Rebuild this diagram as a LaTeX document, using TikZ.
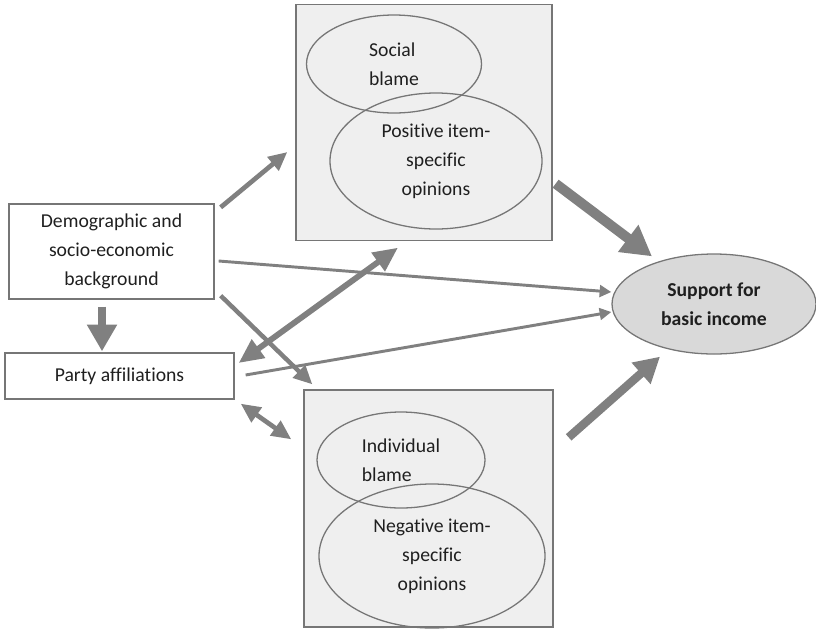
\documentclass[tikz,border=0pt]{standalone}
\usepackage{fontspec}
\setmainfont[Ligatures=NoCommon]{Carlito}
\usetikzlibrary{arrows.meta,calc,shapes.geometric}
\definecolor{arrowgray}{HTML}{808080}
\definecolor{linegray}{HTML}{767676}
\definecolor{boxfill}{HTML}{EFEFEF}
\definecolor{supfill}{HTML}{D9D9D9}
\begin{document}
\begin{tikzpicture}[x=0.03cm,y=-0.03cm,
        every node/.style={font=\fontsize{16.8}{24.7}\selectfont, text=black!88},
        varbox/.style={draw=linegray, line width=1.1pt, rectangle, align=center, inner sep=0pt},
        groupbox/.style={draw=linegray, line width=1.1pt, fill=boxfill, rectangle, inner sep=0pt},
        blob/.style={draw=linegray, line width=1.1pt, ellipse, align=center, inner sep=0pt},
        thinlink/.style={draw=arrowgray, line width=2.5pt, -{Triangle[length=10pt,width=10pt]}},
        midlink/.style={draw=arrowgray, line width=4pt, -{Triangle[length=16pt,width=14.5pt]}},
        twolink/.style={draw=arrowgray, line width=#1, {Triangle[length=4.2*#1,width=3.7*#1]}-{Triangle[length=4.2*#1,width=3.7*#1]}},
        biglink/.style={draw=arrowgray, line width=#1, -{Triangle[length=3*#1,width=3.2*#1]}}]
    \useasboundingbox (0,0) rectangle (816,635);
    %% variables on the left
    \node[varbox, minimum width=6.15cm, minimum height=2.85cm] (demo) at (111.5,251.5)
        {Demographic and\\socio-economic\\background};
    \node[varbox, minimum width=6.87cm, minimum height=1.38cm] (party) at (119.5,376)
        {Party affiliations};
    %% positive block
    \node[groupbox, minimum width=7.68cm, minimum height=7.08cm] (top) at (424,122.5) {};
    \node[blob, minimum width=5.25cm, minimum height=2.94cm, align=left] (social) at (394,64)
        {Social\\blame};
    \node[blob, minimum width=6.36cm, minimum height=4.08cm] (pos) at (436,161)
        {Positive item-\\specific\\opinions};
    %% negative block
    \node[groupbox, minimum width=7.47cm, minimum height=7.11cm] (bot) at (428.5,508.5) {};
    \node[blob, minimum width=5.04cm, minimum height=2.88cm, align=left] (indiv) at (401,460)
        {Individual\\blame};
    \node[blob, minimum width=6.78cm, minimum height=4.32cm] (neg) at (432,556)
        {Negative item-\\specific\\opinions};
    %% outcome
    \node[blob, fill=supfill, minimum width=6.12cm, minimum height=3cm,
        font=\fontsize{16.8}{24.7}\selectfont\bfseries] (sup) at (714,304)
        {Support for\\basic income};
    %% paths
    \draw[midlink] ($(demo.north east)+(6,4)$) -- ($(top.west)+(-8,29.5)$);
    \draw[thinlink] ($(demo.east)+(4,9.5)$) -- ($(sup.west)+(0,-12)$);
    \draw[midlink, line width=3.8pt] ($(demo.south east)+(6,-4)$) -- ($(bot.north west)+(9,-5)$);
    \draw[biglink=7.6pt] ($(demo.south)+(-9.5,7)$) -- ($(party.north)+(-17.5,-1)$);
    \draw[thinlink] ($(party.east)+(11,-1)$) -- ($(sup.west)+(0,8)$);
    \draw[twolink=5pt] ($(party.east)+(4,-13)$) -- ($(top.south)+(-26,6.5)$);
    \draw[twolink=4pt] ($(party.south east)+(6,4)$) -- ($(bot.north west)+(-12,50)$);
    \draw[biglink=8.5pt] ($(top.south east)+(3,-57.5)$) -- ($(sup.north)+(-62,3)$);
    \draw[biglink=7.2pt] ($(bot.north east)+(15,48)$) -- ($(sup.south)+(-54,2)$);
\end{tikzpicture}
\end{document}
